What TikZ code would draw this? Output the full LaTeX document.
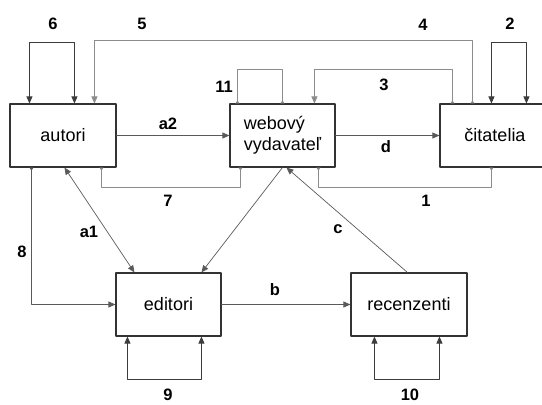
\documentclass[tikz,border=0pt]{standalone}
\usepackage{fontspec}
\setmainfont{Liberation Sans}
\usetikzlibrary{arrows.meta}
\definecolor{boxcol}{HTML}{333333}
\definecolor{darkln}{HTML}{3C3C3C}
\definecolor{midln}{HTML}{5A5A5A}
\definecolor{lightln}{HTML}{8C8C8C}

\begin{document}
\begin{tikzpicture}[line cap=round,line join=round,x=1pt,y=-1pt,
	>={Triangle[length=7pt,width=6pt]},
	mk/.tip={Triangle[reversed,length=3pt,width=4pt]},
	box/.style={draw=boxcol,line width=1.1pt,minimum height=63pt,inner sep=0pt,font=\fontsize{18}{21}\selectfont},
	lbl/.style={inner sep=0pt,font=\fontsize{16.5}{18}\selectfont\bfseries},
	dk/.style={draw=darkln,line width=0.8pt},
	md/.style={draw=midln,line width=0.7pt},
	lt/.style={draw=lightln,line width=0.7pt}]
		\clip (0,0) rectangle (542,405);
		% boxes
		\node[box,minimum width=106pt] (aut) at (63,135.5) {autori};
		\node[box,minimum width=105pt,align=left] (web) at (282.5,135.5) {webový\\vydavateľ};
		\node[box,minimum width=110pt] (cit) at (495,135.5) {čitatelia};
		\node[box,minimum width=105pt] (edi) at (168.5,304.5) {editori};
		\node[box,minimum width=116pt] (rec) at (409,304.5) {recenzenti};
		% top connectors
		\draw[dk,<->] ([xshift=20]aut.north west) -- ++(0,-61) -| ([xshift=65]aut.north west);
		\draw[lt,mk->] ([xshift=33]cit.north west) -- ++(0,-63) -| ([xshift=85]aut.north west);
		\draw[lt,mk-mk] ([xshift=8]web.north west) -- ++(0,-34) -| ([xshift=53]web.north west);
		\draw[lt,mk->] ([xshift=13]cit.north west) -- ++(0,-34) -| ([xshift=85]web.north west);
		\draw[dk,<->] ([xshift=52]cit.north west) -- ++(0,-61) -| ([xshift=87]cit.north west);
		% middle row
		\draw[md,->] (aut.east) -- (aut.east -| web.west);
		\draw[md,->] (web.east) -- (web.east -| cit.west);
		\draw[lt,mk-mk] ([xshift=92]aut.south west) -- ++(0,20) -| ([xshift=11]web.south west);
		\draw[lt,mk-mk] ([xshift=89]web.south west) -- ++(0,20) -| ([xshift=52]cit.south west);
		% lower connectors
		\draw[md,mk->] ([xshift=22]aut.south west) |- (edi.west);
		\draw[md,<->] ([xshift=55]aut.south west) -- ([xshift=19]edi.north west);
		\draw[md,->] ([xshift=53]web.south west) -- ([xshift=86]edi.north west);
		\draw[md,->] ([xshift=57]rec.north west) -- ([xshift=57]web.south west);
		\draw[md,->] (edi.east) -- (edi.east -| rec.west);
		\draw[dk,<->] ([xshift=12]edi.south west) -- ++(0,43) -| ([xshift=86]edi.south west);
		\draw[dk,<->] ([xshift=24]rec.south west) -- ++(0,43) -| ([xshift=89]rec.south west);
		% labels
		\node[lbl] (l6) at (53,24) {6};
		\node[lbl] (l5) at (142,24) {5};
		\node[lbl] (l4) at (423,25) {4};
		\node[lbl] (l2) at (510,24) {2};
		\node[lbl] (l11) at (224,87) {11};
		\node[lbl] (l3) at (384,85) {3};
		\node[lbl] (la2) at (168,124) {a2};
		\node[lbl] (ld) at (386,147) {d};
		\node[lbl] (l7) at (168,201) {7};
		\node[lbl] (l1) at (426,201) {1};
		\node[lbl] (l8) at (22,252) {8};
		\node[lbl] (la1) at (89,232) {a1};
		\node[lbl] (lc) at (338,229) {c};
		\node[lbl] (lb) at (275,290) {b};
		\node[lbl] (l9) at (168,395) {9};
		\node[lbl] (l10) at (410,395) {10};
	\end{tikzpicture}
\end{document}
